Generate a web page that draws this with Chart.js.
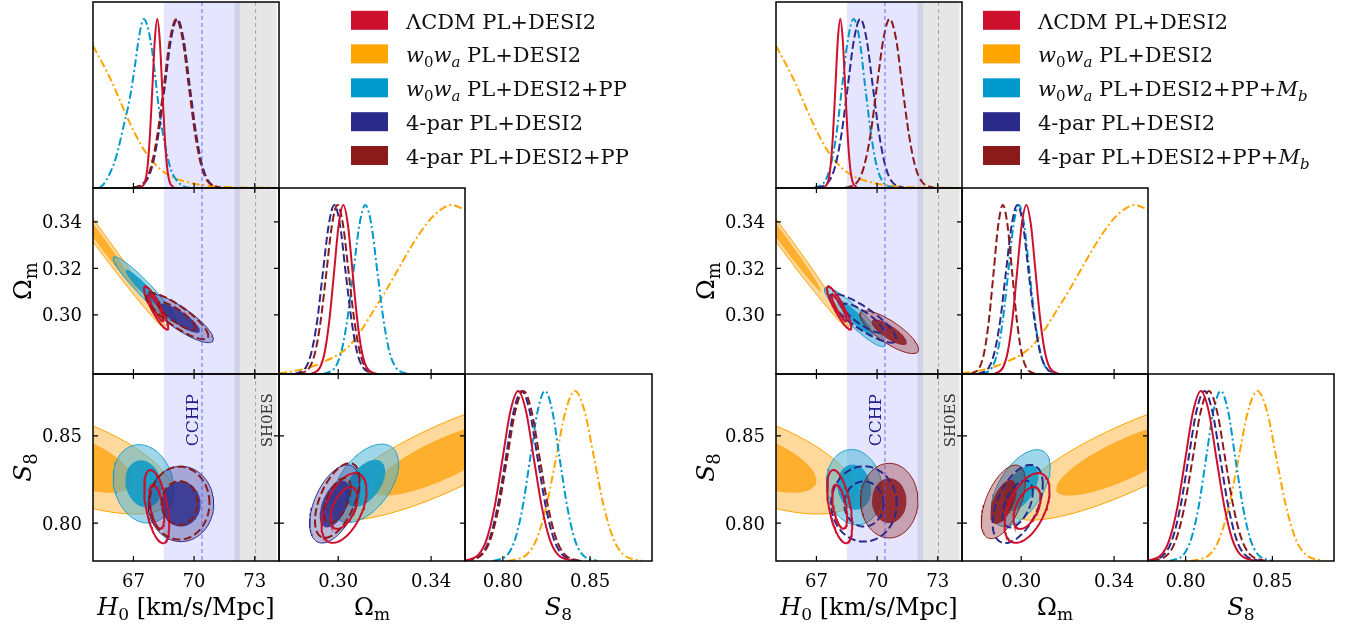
<!DOCTYPE html>
<html>
<head>
<meta charset="utf-8">
<title>Triangle plot</title>
<script src="https://cdn.jsdelivr.net/npm/chart.js@4.4.1/dist/chart.umd.min.js"></script>
<style>
html, body { margin: 0; padding: 0; background: #fff; }
#wrap { position: relative; width: 1359px; height: 629px; overflow: hidden; }
#wrap canvas { position: absolute; left: 0; top: 0; }
</style>
</head>
<body>
<div id="wrap"></div>
<script>
// Ticks and tick labels
var h0Ticks = [67, 70, 73], h0TickLabels = ['67', '70', '73'];
var omTicksX = [0.30, 0.34], omTickLabelsX = ['0.30', '0.34'];
var omTicksY = [0.30, 0.32, 0.34], omTickLabelsY = ['0.30', '0.32', '0.34'];
var s8Ticks = [0.80, 0.85], s8TickLabels = ['0.80', '0.85'];

// Axis titles (text, style) - i italic, s subscript
var h0Title = [['H', 'i'], ['0', 's'], [' [km/s/Mpc]', '']];
var omTitle = [['Ω', ''], ['m', 's']];
var s8Title = [['S', 'i'], ['8', 's']];

// Local H0 measurements [value, error]
var cchp = [70.39, 1.89];
var shoes = [73.04, 1.04];
var noteX = [70.18, 73.84], noteY = 0.859;

// Legend labels
var labelsLeft = [
    [['ΛCDM PL+DESI2', '']],
    [['w', 'i'], ['0', 's'], ['w', 'i'], ['a', 'si'], [' PL+DESI2', '']],
    [['w', 'i'], ['0', 's'], ['w', 'i'], ['a', 'si'], [' PL+DESI2+PP', '']],
    [['4-par PL+DESI2', '']],
    [['4-par PL+DESI2+PP', '']]
];
var labelsRight = [
    [['ΛCDM PL+DESI2', '']],
    [['w', 'i'], ['0', 's'], ['w', 'i'], ['a', 'si'], [' PL+DESI2', '']],
    [['w', 'i'], ['0', 's'], ['w', 'i'], ['a', 'si'], [' PL+DESI2+PP+', ''], ['M', 'i'], ['b', 'si']],
    [['4-par PL+DESI2', '']],
    [['4-par PL+DESI2+PP+', ''], ['M', 'i'], ['b', 'si']]
];

// 1D posteriors [x, P/Pmax]
var redH0 = [[67.34,0],[67.58,0.04],[67.70,0.13],[67.82,0.32],[67.94,0.6],[68.06,0.88],[68.18,1],[68.30,0.88],[68.42,0.6],[68.54,0.32],[68.66,0.13],[68.78,0.04],[69.02,0]];
var redOm = [[0.2882,0],[0.2922,0.04],[0.2942,0.13],[0.2962,0.32],[0.2982,0.6],[0.3002,0.88],[0.3022,1],[0.3042,0.88],[0.3062,0.6],[0.3082,0.32],[0.3102,0.13],[0.3122,0.04],[0.3162,0]];
var redS8 = [[0.7773,0],[0.7863,0.04],[0.7908,0.13],[0.7953,0.32],[0.7998,0.6],[0.8043,0.88],[0.8088,1],[0.8133,0.88],[0.8178,0.6],[0.8223,0.32],[0.8268,0.13],[0.8313,0.04],[0.8403,0]];

var orangeH0 = [[65.0,0.84],[65.5,0.73],[66.0,0.61],[66.5,0.47],[67.0,0.34],[67.5,0.23],[68.0,0.15],[68.5,0.095],[69.0,0.06],[69.5,0.04],[70.0,0.025],[71.0,0.01],[72.0,0.004],[74.2,0]];
var orangeOm = [[0.2745,0.005],[0.28,0.015],[0.285,0.03],[0.29,0.05],[0.295,0.08],[0.30,0.115],[0.305,0.17],[0.31,0.26],[0.315,0.37],[0.32,0.48],[0.325,0.6],[0.33,0.72],[0.335,0.83],[0.34,0.92],[0.345,0.98],[0.349,1],[0.3546,0.97]];
var orangeS8 = [[0.8029,0],[0.8139,0.04],[0.8194,0.13],[0.8249,0.32],[0.8304,0.6],[0.8359,0.88],[0.8414,1],[0.8469,0.88],[0.8524,0.6],[0.8579,0.32],[0.8634,0.13],[0.8689,0.04],[0.8799,0]];

var navyH0 = [[67.0,0],[67.62,0.04],[67.93,0.13],[68.24,0.32],[68.55,0.6],[68.86,0.88],[69.17,1],[69.48,0.88],[69.79,0.6],[70.10,0.32],[70.41,0.13],[70.72,0.04],[71.34,0]];
var navyOm = [[0.2812,0],[0.2861,0.04],[0.2885,0.13],[0.2910,0.32],[0.2934,0.6],[0.2959,0.88],[0.2983,1],[0.3008,0.88],[0.3032,0.6],[0.3057,0.32],[0.3081,0.13],[0.3106,0.04],[0.3155,0]];
var navyS8 = [[0.7786,0],[0.7878,0.04],[0.7924,0.13],[0.7970,0.32],[0.8016,0.6],[0.8062,0.88],[0.8108,1],[0.8154,0.88],[0.8200,0.6],[0.8246,0.32],[0.8292,0.13],[0.8338,0.04],[0.8430,0]];

var cyanLH0 = [[65.3,0],[65.51,0.02],[65.85,0.09],[66.16,0.19],[66.5,0.36],[66.82,0.53],[67.07,0.72],[67.3,0.91],[67.51,1],[67.73,0.94],[67.94,0.8],[68.21,0.52],[68.4,0.36],[68.62,0.22],[68.85,0.11],[69.11,0.05],[69.5,0.01],[69.8,0]];
var cyanLOm = [[0.2935,0],[0.2987,0.04],[0.3013,0.13],[0.3039,0.32],[0.3065,0.6],[0.3091,0.88],[0.3117,1],[0.3143,0.88],[0.3169,0.6],[0.3195,0.32],[0.3221,0.13],[0.3247,0.04],[0.3299,0]];
var cyanLS8 = [[0.7944,0],[0.8029,0.04],[0.8071,0.13],[0.8114,0.32],[0.8156,0.6],[0.8199,0.88],[0.8241,1],[0.8284,0.88],[0.8326,0.6],[0.8369,0.32],[0.8411,0.13],[0.8454,0.04],[0.8539,0]];

var cyanRH0 = [[66.85,0],[67.42,0.04],[67.70,0.13],[67.99,0.32],[68.27,0.6],[68.56,0.88],[68.84,1],[69.13,0.88],[69.41,0.6],[69.70,0.32],[69.98,0.13],[70.27,0.04],[70.84,0]];
var cyanROm = [[0.2829,0],[0.2875,0.04],[0.2898,0.13],[0.2921,0.32],[0.2944,0.6],[0.2967,0.88],[0.2990,1],[0.3013,0.88],[0.3036,0.6],[0.3059,0.32],[0.3082,0.13],[0.3105,0.04],[0.3151,0]];
var cyanRS8 = [[0.7905,0],[0.7990,0.04],[0.8032,0.13],[0.8075,0.32],[0.8117,0.6],[0.8160,0.88],[0.8202,1],[0.8245,0.88],[0.8287,0.6],[0.8330,0.32],[0.8372,0.13],[0.8415,0.04],[0.8500,0]];

var darkLH0 = [[66.95,0],[67.57,0.04],[67.88,0.13],[68.19,0.32],[68.50,0.6],[68.81,0.88],[69.12,1],[69.43,0.88],[69.74,0.6],[70.05,0.32],[70.36,0.13],[70.67,0.04],[71.29,0]];
var darkLOm = [[0.2829,0],[0.2877,0.04],[0.2901,0.13],[0.2925,0.32],[0.2949,0.6],[0.2973,0.88],[0.2997,1],[0.3021,0.88],[0.3045,0.6],[0.3069,0.32],[0.3093,0.13],[0.3117,0.04],[0.3165,0]];
var darkLS8 = [[0.7789,0],[0.7883,0.04],[0.7930,0.13],[0.7977,0.32],[0.8024,0.6],[0.8071,0.88],[0.8118,1],[0.8165,0.88],[0.8212,0.6],[0.8259,0.32],[0.8306,0.13],[0.8353,0.04],[0.8447,0]];

var darkRH0 = [[68.42,0],[69.05,0.04],[69.36,0.13],[69.68,0.32],[69.99,0.6],[70.31,0.88],[70.62,1],[70.94,0.88],[71.25,0.6],[71.57,0.32],[71.88,0.13],[72.20,0.04],[72.83,0]];
var darkROm = [[0.2781,0],[0.2821,0.04],[0.2841,0.13],[0.2861,0.32],[0.2881,0.6],[0.2901,0.88],[0.2921,1],[0.2941,0.88],[0.2961,0.6],[0.2981,0.32],[0.3001,0.13],[0.3021,0.04],[0.3061,0]];
var darkRS8 = [[0.7805,0],[0.7899,0.04],[0.7946,0.13],[0.7993,0.32],[0.8040,0.6],[0.8087,0.88],[0.8134,1],[0.8181,0.88],[0.8228,0.6],[0.8275,0.32],[0.8322,0.13],[0.8369,0.04],[0.8463,0]];

// 2D contours, 95% ellipse: [centre x, centre y, half width x, half width y, correlation]
var redH0Om = [68.12, 0.303, 0.6, 0.0093, -0.9];
var redH0S8 = [68.15, 0.8095, 0.62, 0.021, -0.5];
var redOmS8 = [0.3025, 0.8087, 0.0097, 0.02, 0.5];
var orangeH0Om = [65.2, 0.334, 3.4, 0.04, -0.9925];
var orangeH0S8 = [64.0, 0.8358, 5.0, 0.0306, -0.613];
var orangeOmS8 = [0.345, 0.8368, 0.05, 0.0351, 0.812];
var navyH0Om = [69.3, 0.2985, 1.65, 0.0105, -0.85];
var navyH0S8 = [69.35, 0.811, 1.62, 0.0216, 0.0];
var navyOmS8 = [0.2985, 0.811, 0.0108, 0.0224, 0.5];
var cyanLH0Om = [67.55, 0.311, 1.55, 0.014, -0.95];
var cyanLH0S8 = [67.5, 0.8225, 1.5, 0.0225, -0.15];
var cyanLOmS8 = [0.3116, 0.8228, 0.0144, 0.0225, 0.5];
var darkLH0Om = [69.15, 0.2995, 1.55, 0.01, -0.85];
var darkLH0S8 = [69.28, 0.8115, 1.48, 0.0209, 0.0];
var darkLOmS8 = [0.2996, 0.813, 0.0096, 0.0214, 0.55];
var cyanRH0Om = [68.9, 0.299, 1.5, 0.0128, -0.92];
var cyanRH0S8 = [68.87, 0.8206, 1.38, 0.0216, -0.1];
var cyanROmS8 = [0.2998, 0.8201, 0.0127, 0.022, 0.55];
var darkRH0Om = [70.6, 0.2925, 1.45, 0.0092, -0.8];
var darkRH0S8 = [70.6, 0.8129, 1.42, 0.0214, 0.0];
var darkROmS8 = [0.2923, 0.8122, 0.0095, 0.0211, 0.55];

// Styles
var W = 1359, H = 629;
var SERIF = '"DejaVu Serif", "Liberation Serif", serif';
var RED = '#cc102e', ORANGE = '#ffa500', CYAN = '#0099cc', NAVY = '#2a2a8a', DKRED = '#8b1a1a';
var seriesColors = [RED, ORANGE, CYAN, NAVY, DKRED];
var DASH = [8, 3.5], DASHDOT = [8, 3, 2, 3];
var H0R = [65.0, 74.2], OMR = [0.2745, 0.3546], S8R = [0.7783, 0.8855], PR = [0, 1.1];
var rowY = [2, 188, 374, 561];
var legendRows = [20.3, 53.9, 87.8, 121.7, 155.5];

function gel(id) {
    return document.getElementById(id);
}

// Text with italics / subscripts
function fontFor(st, size) {
    var sub = st.indexOf('s') >= 0, it = st.indexOf('i') >= 0;
    return (it ? 'italic ' : '') + (sub ? Math.round(size * 0.7) : size) + 'px ' + SERIF;
}
function richWidth(ctx, parts, size) {
    var w = 0;
    for (var i = 0; i < parts.length; i++) {
        ctx.font = fontFor(parts[i][1], size);
        w += ctx.measureText(parts[i][0]).width;
    }
    return w;
}
function drawRich(ctx, parts, x, y, size, align) {
    var cx = align == 'center' ? x - richWidth(ctx, parts, size) / 2 : x;
    ctx.textAlign = 'left';
    ctx.textBaseline = 'alphabetic';
    for (var i = 0; i < parts.length; i++) {
        var st = parts[i][1];
        ctx.font = fontFor(st, size);
        ctx.fillText(parts[i][0], cx, y + (st.indexOf('s') >= 0 ? size * 0.22 : 0));
        cx += ctx.measureText(parts[i][0]).width;
    }
}
function note(ctx, txt, x, y, size, col) {
    ctx.save();
    ctx.translate(x, y);
    ctx.rotate(-Math.PI / 2);
    ctx.font = size + 'px ' + SERIF;
    ctx.fillStyle = col;
    ctx.textAlign = 'center';
    ctx.textBaseline = 'alphabetic';
    ctx.fillText(txt, 0, 0);
    ctx.restore();
}
function drawLegend(ctx, lg) {
    ctx.save();
    for (var i = 0; i < lg.labels.length; i++) {
        var cy = legendRows[i];
        ctx.fillStyle = seriesColors[i];
        ctx.fillRect(lg.x, cy - 9.5, 37, 19);
        ctx.fillStyle = '#111';
        drawRich(ctx, lg.labels[i], lg.x + 55, cy + 8.5, 21, 'left');
    }
    ctx.restore();
}

// Contour outline from the ellipse parameters
function ellipsePts(p, k) {
    var pts = [], n = 90, r = Math.sqrt(1 - p[4] * p[4]);
    for (var i = 0; i <= n; i++) {
        var t = 2 * Math.PI * i / n;
        pts.push({x: p[0] + k * p[2] * Math.cos(t), y: p[1] + k * p[3] * (p[4] * Math.cos(t) + r * Math.sin(t))});
    }
    return pts;
}
function curveSet(pts, color, dash) {
    return {
        data: pts.map(function (d) { return {x: d[0], y: d[1]}; }),
        borderColor: color, borderWidth: 2, borderDash: dash, fill: false,
        pointRadius: 0, cubicInterpolationMode: 'monotone', clip: 0
    };
}
function filledSet(p, light, dark, line) {
    return [
        {data: ellipsePts(p, 1), fill: 'shape', backgroundColor: light, borderColor: line, borderWidth: 1, pointRadius: 0, clip: 0},
        {data: ellipsePts(p, 0.6), fill: 'shape', backgroundColor: dark, borderColor: 'rgba(0,0,0,0)', borderWidth: 0, pointRadius: 0, clip: 0}
    ];
}
function lineSet(p, color, dash) {
    return [
        {data: ellipsePts(p, 1), fill: false, borderColor: color, borderWidth: 2, borderDash: dash, pointRadius: 0, clip: 0},
        {data: ellipsePts(p, 0.6), fill: false, borderColor: color, borderWidth: 2, borderDash: dash, pointRadius: 0, clip: 0}
    ];
}

// Frame, ticks, labels, bands
function deco(cfg) {
    return {
        id: 'deco',
        beforeDatasetsDraw: function (chart) {
            if (!cfg.bands) return;
            var ctx = chart.ctx, a = chart.chartArea, xs = chart.scales.x;
            ctx.save();
            ctx.beginPath();
            ctx.rect(a.left, a.top, a.right - a.left, a.bottom - a.top);
            ctx.clip();
            var l = xs.getPixelForValue(cchp[0] - cchp[1]), r = xs.getPixelForValue(cchp[0] + cchp[1]);
            ctx.fillStyle = 'rgba(0,0,255,0.1)';
            ctx.fillRect(l, a.top, r - l, a.bottom - a.top);
            l = xs.getPixelForValue(shoes[0] - shoes[1]);
            r = xs.getPixelForValue(shoes[0] + shoes[1]);
            ctx.fillStyle = 'rgba(128,128,128,0.2)';
            ctx.fillRect(l, a.top, r - l, a.bottom - a.top);
            ctx.restore();
        },
        afterDatasetsDraw: function (chart) {
            var ctx = chart.ctx, a = chart.chartArea, xs = chart.scales.x, ys = chart.scales.y;
            ctx.save();
            if (cfg.bands) {
                ctx.lineWidth = 1;
                ctx.setLineDash([4, 3]);
                var px = xs.getPixelForValue(cchp[0]);
                ctx.strokeStyle = 'rgba(80,80,255,0.85)';
                ctx.beginPath(); ctx.moveTo(px, a.top); ctx.lineTo(px, a.bottom); ctx.stroke();
                px = xs.getPixelForValue(shoes[0]);
                ctx.strokeStyle = '#a6a6a6';
                ctx.beginPath(); ctx.moveTo(px, a.top); ctx.lineTo(px, a.bottom); ctx.stroke();
                ctx.setLineDash([]);
            }
            if (cfg.notes) {
                note(ctx, 'CCHP', xs.getPixelForValue(noteX[0]), ys.getPixelForValue(noteY), 17, '#1f1f8f');
                note(ctx, 'SH0ES', xs.getPixelForValue(noteX[1]), ys.getPixelForValue(noteY), 15, '#333');
            }
            ctx.strokeStyle = '#000';
            ctx.lineWidth = 1.5;
            ctx.strokeRect(a.left, a.top, a.right - a.left, a.bottom - a.top);
            // ticks point inwards
            ctx.lineWidth = 1.2;
            ctx.beginPath();
            (cfg.xt || []).forEach(function (v) {
                var x = xs.getPixelForValue(v);
                ctx.moveTo(x, a.bottom); ctx.lineTo(x, a.bottom - 5);
                if (cfg.all) { ctx.moveTo(x, a.top); ctx.lineTo(x, a.top + 5); }
            });
            if (cfg.all) (cfg.yt || []).forEach(function (v) {
                var y = ys.getPixelForValue(v);
                ctx.moveTo(a.left, y); ctx.lineTo(a.left + 5, y);
                ctx.moveTo(a.right, y); ctx.lineTo(a.right - 5, y);
            });
            ctx.stroke();
            ctx.fillStyle = '#000';
            ctx.font = '18px ' + SERIF;
            ctx.textBaseline = 'alphabetic';
            if (cfg.xl) {
                ctx.textAlign = 'center';
                cfg.xt.forEach(function (v, i) { ctx.fillText(cfg.xl[i], xs.getPixelForValue(v), a.bottom + 26); });
            }
            if (cfg.yl) {
                ctx.textAlign = 'right';
                cfg.yt.forEach(function (v, i) { ctx.fillText(cfg.yl[i], a.left - 11, ys.getPixelForValue(v) + 6.5); });
            }
            if (cfg.xTitle) drawRich(ctx, cfg.xTitle, (a.left + a.right) / 2, 615, 24, 'center');
            if (cfg.yTitle) {
                ctx.translate(a.left - 62, (a.top + a.bottom) / 2);
                ctx.rotate(-Math.PI / 2);
                drawRich(ctx, cfg.yTitle, 0, 0, 25, 'center');
            }
            ctx.restore();
            if (cfg.legend) drawLegend(ctx, cfg.legend);
        }
    };
}

function makePanel(box, xr, yr, sets, cfg) {
    var cv = document.createElement('canvas');
    cv.width = W;
    cv.height = H;
    gel('wrap').appendChild(cv);
    // first set is drawn at the back
    for (var i = 0; i < sets.length; i++) sets[i].order = sets.length - i;
    return new Chart(cv, {
        type: 'line',
        data: {datasets: sets},
        options: {
            responsive: false, animation: false, devicePixelRatio: 1, events: [],
            layout: {padding: {left: box[0], top: box[1], right: W - box[2], bottom: H - box[3]}},
            scales: {
                x: {type: 'linear', min: xr[0], max: xr[1], display: false},
                y: {type: 'linear', min: yr[0], max: yr[1], display: false}
            },
            elements: {point: {radius: 0}, line: {tension: 0}},
            plugins: {legend: {display: false}, tooltip: {enabled: false}}
        },
        plugins: [deco(cfg)]
    });
}

var red1D = [redH0, redOm, redS8], orange1D = [orangeH0, orangeOm, orangeS8], navy1D = [navyH0, navyOm, navyS8];
var redC = [redH0Om, redH0S8, redOmS8], orangeC = [orangeH0Om, orangeH0S8, orangeOmS8], navyC = [navyH0Om, navyH0S8, navyOmS8];

var triangles = [
    {X: [93, 279, 465, 652], cyan: [cyanLH0, cyanLOm, cyanLS8], dark: [darkLH0, darkLOm, darkLS8],
     cyanC: [cyanLH0Om, cyanLH0S8, cyanLOmS8], darkC: [darkLH0Om, darkLH0S8, darkLOmS8], filled: 'navy', legend: {x: 351, labels: labelsLeft}},
    {X: [776, 962, 1148, 1334], cyan: [cyanRH0, cyanROm, cyanRS8], dark: [darkRH0, darkROm, darkRS8],
     cyanC: [cyanRH0Om, cyanRH0S8, cyanROmS8], darkC: [darkRH0Om, darkRH0S8, darkROmS8], filled: 'dark', legend: {x: 983, labels: labelsRight}}
];

function curves(t, i) {
    return [curveSet(orange1D[i], ORANGE, DASHDOT), curveSet(t.cyan[i], CYAN, DASHDOT),
            curveSet(navy1D[i], NAVY, DASH), curveSet(t.dark[i], DKRED, DASH), curveSet(red1D[i], RED, [])];
}
function contours(t, j) {
    var ds = [];
    ds = ds.concat(filledSet(orangeC[j], 'rgba(255,190,90,0.6)', 'rgba(255,165,20,0.8)', ORANGE));
    ds = ds.concat(filledSet(t.cyanC[j], 'rgba(80,180,215,0.55)', 'rgba(0,150,200,0.8)', '#1a9fcc'));
    if (t.filled == 'navy') {
        ds = ds.concat(filledSet(navyC[j], 'rgba(50,50,140,0.35)', 'rgba(45,45,140,0.85)', NAVY));
        ds = ds.concat(lineSet(redC[j], RED, []));
        ds = ds.concat(lineSet(t.darkC[j], DKRED, DASH));
    } else {
        ds = ds.concat(filledSet(t.darkC[j], 'rgba(140,30,35,0.35)', 'rgba(140,25,30,0.85)', DKRED));
        ds = ds.concat(lineSet(navyC[j], NAVY, DASH));
        ds = ds.concat(lineSet(redC[j], RED, []));
    }
    return ds;
}

triangles.forEach(function (t) {
    var X = t.X, Y = rowY;
    makePanel([X[0], Y[0], X[1], Y[1]], H0R, PR, curves(t, 0), {xt: h0Ticks, bands: true, legend: t.legend});
    makePanel([X[0], Y[1], X[1], Y[2]], H0R, OMR, contours(t, 0),
        {xt: h0Ticks, yt: omTicksY, all: true, bands: true, yl: omTickLabelsY, yTitle: omTitle});
    makePanel([X[1], Y[1], X[2], Y[2]], OMR, PR, curves(t, 1), {xt: omTicksX});
    makePanel([X[0], Y[2], X[1], Y[3]], H0R, S8R, contours(t, 1),
        {xt: h0Ticks, yt: s8Ticks, all: true, bands: true, notes: true, xl: h0TickLabels, yl: s8TickLabels, xTitle: h0Title, yTitle: s8Title});
    makePanel([X[1], Y[2], X[2], Y[3]], OMR, S8R, contours(t, 2),
        {xt: omTicksX, yt: s8Ticks, all: true, xl: omTickLabelsX, xTitle: omTitle});
    makePanel([X[2], Y[2], X[3], Y[3]], S8R, PR, curves(t, 2), {xt: s8Ticks, xl: s8TickLabels, xTitle: s8Title});
});
</script>
</body>
</html>
